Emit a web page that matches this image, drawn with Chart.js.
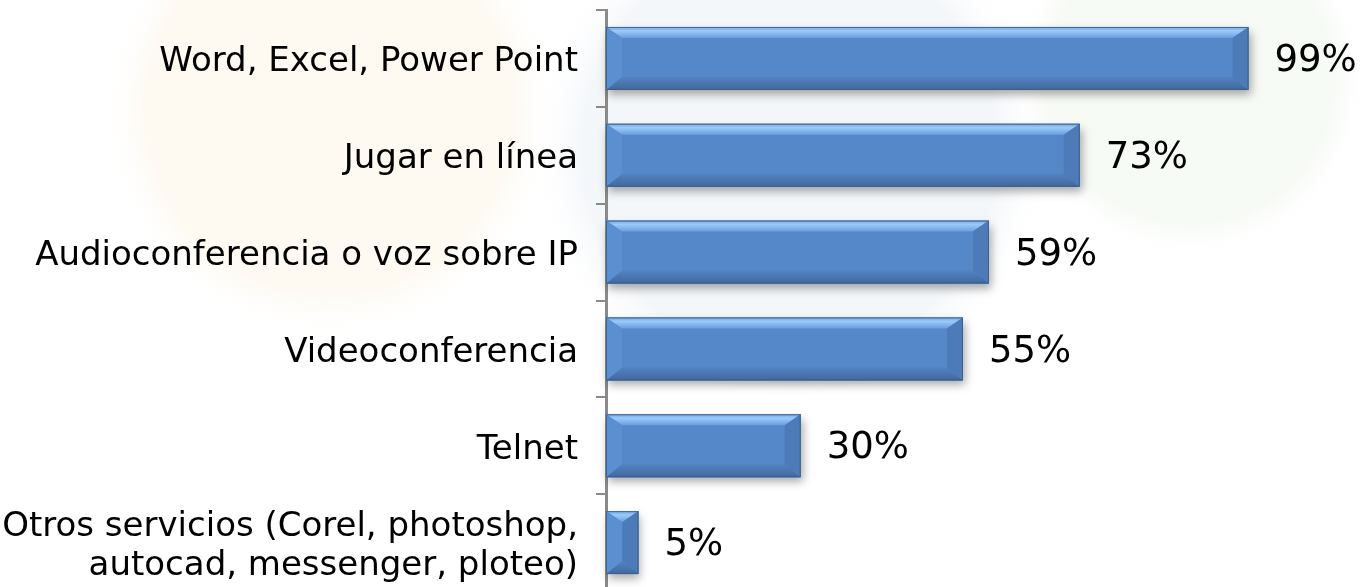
<!DOCTYPE html>
<html>
<head>
<meta charset="utf-8">
<script src="https://cdn.jsdelivr.net/npm/chart.js@4/dist/chart.umd.min.js"></script>
<style>
  html, body { margin: 0; padding: 0; background: #ffffff; overflow: hidden; }
  #wrap { width: 1364px; height: 591px; position: relative; }
</style>
</head>
<body>
<div id="wrap"><canvas id="barchart"></canvas></div>
<script>
var categories = [
    'Word, Excel, Power Point',
    'Jugar en línea',
    'Audioconferencia o voz sobre IP',
    'Videoconferencia',
    'Telnet',
    ['Otros servicios (Corel, photoshop,', 'autocad, messenger, ploteo)']
];
var values = [99, 73, 59, 55, 30, 5];
var valueLabels = ['99%', '73%', '59%', '55%', '30%', '5%'];

var FONT = "'DejaVu Sans', Verdana, sans-serif";

// faint watermark behind the chart
var watermark = {
    id: 'watermark',
    beforeDraw: function(chart) {
        var ctx = chart.ctx;
        ctx.save();
        ctx.fillStyle = '#ffffff';
        ctx.fillRect(0, 0, chart.width, chart.height);
        var blobs = [
            [330, 110, 230, 'rgba(252,242,222,0.4)'],
            [790, 150, 260, 'rgba(228,235,243,0.4)'],
            [1190, 80, 180, 'rgba(234,243,230,0.4)']
        ];
        blobs.forEach(function(b) {
            var g = ctx.createRadialGradient(b[0], b[1], 0, b[0], b[1], b[2]);
            g.addColorStop(0, b[3]);
            g.addColorStop(0.8, b[3]);
            g.addColorStop(1, 'rgba(255,255,255,0)');
            ctx.fillStyle = g;
            ctx.beginPath();
            ctx.arc(b[0], b[1], b[2], 0, Math.PI * 2);
            ctx.fill();
        });
        ctx.restore();
    }
};

// drop shadow under each bar
var barShadow = {
    id: 'barShadow',
    beforeDatasetsDraw: function(chart) {
        var ctx = chart.ctx;
        var meta = chart.getDatasetMeta(0);
        ctx.save();
        meta.data.forEach(function(bar) {
            var left = bar.base, right = bar.x;
            var top = bar.y - bar.height / 2, h = bar.height;
            ctx.shadowColor = 'rgba(0,0,0,0.35)';
            ctx.shadowBlur = 9;
            ctx.shadowOffsetX = 2;
            ctx.shadowOffsetY = 5;
            ctx.fillStyle = '#5487c7';
            ctx.fillRect(left, top, right - left, h);
        });
        ctx.restore();
    }
};

// bevel look on top of the bars
var bevel = {
    id: 'bevel',
    afterDatasetsDraw: function(chart) {
        var ctx = chart.ctx;
        var meta = chart.getDatasetMeta(0);
        ctx.save();
        meta.data.forEach(function(bar) {
            var x0 = bar.base, x1 = bar.x;
            var y0 = bar.y - bar.height / 2, y1 = bar.y + bar.height / 2;
            var w = x1 - x0;
            var bx = Math.min(16, w / 2), bt = 11, bb = 13;

            // top band
            var gt = ctx.createLinearGradient(0, y0, 0, y0 + bt);
            gt.addColorStop(0, '#6fa4e4');
            gt.addColorStop(0.35, '#9ccaf8');
            gt.addColorStop(1, '#6a9edd');
            ctx.fillStyle = gt;
            ctx.beginPath();
            ctx.moveTo(x0, y0); ctx.lineTo(x1, y0);
            ctx.lineTo(x1 - bx, y0 + bt); ctx.lineTo(x0 + bx, y0 + bt);
            ctx.closePath(); ctx.fill();

            // bottom band
            var gb = ctx.createLinearGradient(0, y1 - bb, 0, y1);
            gb.addColorStop(0, '#5283c2');
            gb.addColorStop(1, '#42689c');
            ctx.fillStyle = gb;
            ctx.beginPath();
            ctx.moveTo(x0, y1); ctx.lineTo(x1, y1);
            ctx.lineTo(x1 - bx, y1 - bb); ctx.lineTo(x0 + bx, y1 - bb);
            ctx.closePath(); ctx.fill();

            // right band
            ctx.fillStyle = '#4c7bb7';
            ctx.beginPath();
            ctx.moveTo(x1, y0); ctx.lineTo(x1, y1);
            ctx.lineTo(x1 - bx, y1 - bb); ctx.lineTo(x1 - bx, y0 + bt);
            ctx.closePath(); ctx.fill();

            // left band
            ctx.fillStyle = '#5a8fd0';
            ctx.beginPath();
            ctx.moveTo(x0, y0); ctx.lineTo(x0, y1);
            ctx.lineTo(x0 + bx, y1 - bb); ctx.lineTo(x0 + bx, y0 + bt);
            ctx.closePath(); ctx.fill();

            // outline
            ctx.strokeStyle = 'rgba(55,90,135,0.8)';
            ctx.lineWidth = 1;
            ctx.strokeRect(x0 + 0.5, y0 + 0.5, w - 1, y1 - y0 - 1);
        });
        ctx.restore();
    }
};

// percentage labels right of the bars
var valueText = {
    id: 'valueText',
    afterDatasetsDraw: function(chart) {
        var ctx = chart.ctx;
        var meta = chart.getDatasetMeta(0);
        ctx.save();
        ctx.font = '37px ' + FONT;
        ctx.fillStyle = '#000000';
        ctx.textAlign = 'left';
        ctx.textBaseline = 'middle';
        meta.data.forEach(function(bar, i) {
            ctx.fillText(valueLabels[i], bar.x + 26, bar.y + 3);
        });
        ctx.restore();
    }
};

var ctx = document.getElementById('barchart');
var chart = new Chart(ctx, {
    type: 'bar',
    data: {
        labels: categories,
        datasets: [{
            data: values,
            backgroundColor: '#5588c8',
            borderWidth: 0,
            barPercentage: 0.65,
            categoryPercentage: 1
        }]
    },
    options: {
        indexAxis: 'y',
        responsive: true,
        maintainAspectRatio: false,
        animation: false,
        events: [],
        layout: { padding: { top: 10, right: 109, bottom: 0, left: 0 } },
        plugins: {
            legend: { display: false },
            tooltip: { enabled: false }
        },
        scales: {
            x: {
                display: false,
                min: 0,
                max: 100
            },
            y: {
                afterFit: function(scale) {
                    scale.width = 606;
                    scale.paddingTop = 0;
                    scale.paddingBottom = 0;
                },
                border: { display: true, color: '#8a8a8a', width: 3 },
                grid: {
                    offset: true,
                    drawOnChartArea: false,
                    drawTicks: true,
                    tickLength: 10,
                    color: '#8a8a8a',
                    lineWidth: 2
                },
                ticks: {
                    padding: 18,
                    labelOffset: 4,
                    color: '#000000',
                    font: { family: FONT, size: 34, lineHeight: 1.15 }
                }
            }
        }
    },
    plugins: [watermark, barShadow, bevel, valueText]
});
</script>
</body>
</html>
